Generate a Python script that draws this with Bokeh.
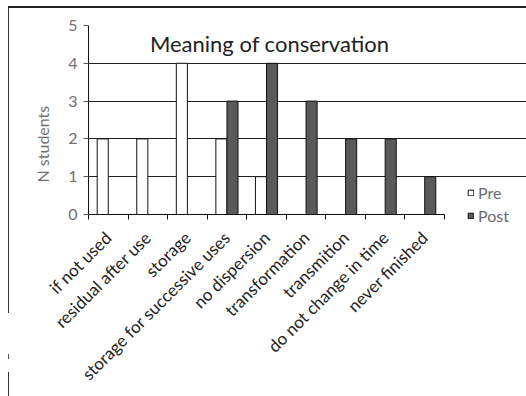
import math
from bokeh.plotting import figure
from bokeh.models import (Range1d, FixedTicker, Legend, LegendItem, Label,
                          Title, ColumnDataSource)
from bokeh.embed import file_html
from bokeh.resources import INLINE

# --- data -------------------------------------------------------------
categories = ["if not used", "residual after use", "storage",
              "storage for successive uses", "no dispersion",
              "transformation", "transmition", "do not change in time",
              "never finished"]
pre = [2, 2, 4, 2, 1, 0, 0, 0, 0]
post = [0, 0, 0, 3, 4, 3, 2, 2, 1]
y_ticks = [0, 1, 2, 3, 4, 5]
series_names = ["Pre", "Post"]
chart_title = "Meaning of conservation"
y_title = "N students"

FONT = "Lato"
W, H = 526, 396
n = len(categories)
bar_w = 0.28
y_max = 5

# geometry (pixels): bar area, zero line and where the drawing area ends
LEFT, BAR_RIGHT, TOP, ZERO, BOTTOM = 88, 444, 25, 214, 230
px_x = (BAR_RIGHT - LEFT) / n
px_y = (ZERO - TOP) / y_max
drop = BOTTOM - ZERO

# thin page frame drawn as CSS background lines behind a transparent border
frame_bg = ", ".join([
    "linear-gradient(#222,#222) 8px 6px / 518px 2px no-repeat",
    "linear-gradient(#333,#333) 8px 6px / 1px 307px no-repeat",
    "linear-gradient(#555,#555) 8px 354px / 1px 5px no-repeat",
    "linear-gradient(#333,#333) 8px 372px / 1px 24px no-repeat",
    "white",
])

p = figure(width=W, height=H, output_backend="svg", toolbar_location=None,
           x_range=Range1d(0, (W - LEFT) / px_x),
           y_range=Range1d(-drop / px_y, y_max),
           min_border_left=LEFT, min_border_right=0,
           min_border_top=TOP, min_border_bottom=H - BOTTOM,
           styles={"background": frame_bg})
p.outline_line_color = None
p.background_fill_color = "white"
p.border_fill_alpha = 0

idx = list(range(n))
src = ColumnDataSource(dict(
    x_pre=[i + 0.5 - bar_w / 2 for i in idx],
    x_post=[i + 0.5 + bar_w / 2 for i in idx],
    pre=pre, post=post))

# horizontal grid above zero
p.xgrid.visible = False
p.ygrid.ticker = FixedTicker(ticks=[t for t in y_ticks if t > 0])
p.ygrid.grid_line_color = "#222"
p.ygrid.grid_line_width = 1

# category axis line along zero, across the categories only
p.segment(x0=0, x1=n, y0=0, y1=0, line_color="#111", line_width=1)

r_pre = p.vbar(x="x_pre", top="pre", width=bar_w, source=src,
               fill_color="white", line_color="#111", line_width=1)
r_post = p.vbar(x="x_post", top="post", width=bar_w, source=src,
                fill_color="#5a5a5a", line_color="#111", line_width=1)

# y axis
ya = p.yaxis[0]
ya.ticker = FixedTicker(ticks=y_ticks)
ya.bounds = (0, y_max)
ya.axis_line_color = "#111"
ya.major_tick_out = 5
ya.major_tick_in = 0
ya.minor_tick_line_color = None
ya.major_tick_line_color = "#555"
ya.major_label_text_font = FONT
ya.major_label_text_font_size = "16px"
ya.major_label_text_color = "#707070"
ya.major_label_standoff = 6

# x axis: labels at category centres, tick marks on category boundaries
xa = p.xaxis[0]
xa.bounds = (0, n)
xa.ticker = FixedTicker(ticks=[i + 0.5 for i in idx],
                        minor_ticks=list(range(n + 1)))
xa.major_label_overrides = {i + 0.5: c for i, c in enumerate(categories)}
xa.axis_line_color = None
xa.major_tick_out = 0
xa.major_tick_in = 0
xa.minor_tick_in = drop
xa.minor_tick_out = 5 - drop
xa.minor_tick_line_color = "#111"
xa.major_label_orientation = math.pi / 4
xa.major_label_text_font = FONT
xa.major_label_text_font_size = "17px"
xa.major_label_text_color = "#222"
xa.major_label_standoff = 20 - drop

# chart title drawn inside the plot area
p.add_layout(Label(x=4.58, y=4.52, text=chart_title, text_font=FONT,
                   text_font_size="22px", text_color="#222",
                   text_align="center", text_baseline="middle"))

# y axis title
p.add_layout(Title(text=y_title, align="left", offset=48, standoff=28,
                   text_font=FONT, text_font_size="16px",
                   text_font_style="normal", text_color="#707070"), "left")

# legend, to the right of the bars
legend = Legend(items=[LegendItem(label=series_names[0], renderers=[r_pre]),
                       LegendItem(label=series_names[1], renderers=[r_post])],
                location=(467 - LEFT, BOTTOM - 225), glyph_width=7,
                glyph_height=7, label_height=20, spacing=3, padding=0,
                margin=0, label_standoff=4, border_line_color=None,
                background_fill_color="white", background_fill_alpha=1,
                label_text_font=FONT, label_text_font_size="16px",
                label_text_color="#6b6b6b")
p.add_layout(legend)

open("out.html", "w").write(file_html(p, INLINE))
